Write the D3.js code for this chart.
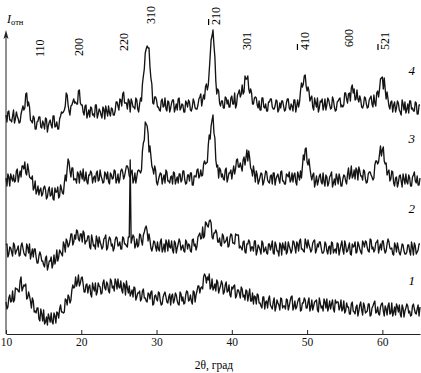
<!DOCTYPE html>
<html>
<head>
<meta charset="utf-8">
<script src="https://cdn.jsdelivr.net/npm/d3@7"></script>
<style>
  body { margin: 0; background: #fff; }
  #chart svg { display: block; }
</style>
</head>
<body>
<div id="chart"></div>
<script>
// 2theta grid of the scans, degrees (second set of readings sits half a step later)
var thetaStart = 10, thetaStep = 0.25;

// intensities (arb. units, above each curve's own offset)
var curve1 = [32,27,39,33,32,46,45,42,57,46,48,35,42,33,36,22,21,26,13,20,24,12,9,16,21,10,18,22,16,29,22,22,34,39,31,44,46,57,52,48,56,50,42,50,
  47,40,51,43,39,51,47,41,54,44,50,41,53,48,55,45,47,53,41,49,53,41,38,44,47,34,41,43,35,45,36,32,40,42,29,38,35,42,33,30,40,37,31,40,
  38,31,41,33,29,40,37,31,43,33,39,30,42,39,48,41,47,57,58,57,60,47,44,50,54,41,48,50,42,52,43,39,47,48,36,44,41,47,37,34,43,39,33,41,
  38,30,39,31,26,37,32,26,38,27,32,23,34,29,36,26,28,35,24,33,38,27,25,32,36,24,31,34,26,36,27,24,32,34,22,31,28,35,26,23,33,30,25,34,
  32,24,34,25,21,31,27,20,32,22,27,18,29,24,31,21,23,30,19,28,33,22,20,27,31,18,25,28,20,31,22,19,27,29,17,26,23,30,21,18,28,25,20,29,27];
var curve1Half = [25,36,32,43,34,45,43,53,43,49,50,36,38,26,33,23,26,15,25,13,10,17,20,12,12,21,11,21,25,22,21,35,29,37,34,49,47,48,59,51,57,42,49,41,
  49,37,46,51,42,48,40,51,46,52,43,55,46,43,52,55,46,44,51,39,46,48,41,37,46,37,41,33,43,36,33,41,35,43,30,39,33,41,29,37,42,32,37,29,
  40,34,39,30,42,33,30,39,42,34,33,43,32,43,48,46,45,60,51,54,45,55,46,43,52,45,53,40,49,42,49,37,45,49,38,44,36,45,39,44,33,45,33,30,
  37,40,31,28,37,25,33,35,29,25,36,27,31,24,35,28,25,34,28,37,24,33,27,35,23,31,36,26,32,23,34,28,33,24,36,26,23,32,35,27,25,34,22,31,
  32,27,23,33,23,27,20,30,23,20,29,23,32,19,28,22,30,18,26,31,21,27,19,30,23,28,19,31,21,18,27,30,22,20,29,17,26,28,23,19,30,21,25,18];
var curve2 = [29,17,27,22,31,20,25,18,28,26,19,30,21,15,25,25,17,11,22,13,9,16,4,13,17,10,10,24,17,22,18,29,35,27,33,40,32,35,43,33,40,43,30,33,
  38,25,34,29,38,27,32,25,35,39,26,37,28,23,34,36,29,25,37,30,28,37,114,35,37,29,27,40,33,39,46,43,40,26,27,32,23,25,32,22,30,34,23,27,
  33,21,31,26,35,24,29,22,32,30,23,34,28,24,37,41,36,36,52,48,53,51,35,41,41,32,29,40,31,34,27,36,39,31,40,39,26,26,32,22,30,34,23,27,
  33,19,29,24,33,22,27,20,30,28,21,32,23,18,29,31,24,20,32,25,24,32,21,30,33,25,23,35,26,29,22,31,34,24,27,32,21,23,30,20,28,32,21,25,
  31,19,29,24,33,22,27,20,30,28,21,32,25,20,31,33,26,22,34,27,24,32,21,30,33,25,23,35,26,26,19,28,31,21,24,29,20,22,29,19,27,31,20,24,30];
var curve2Half = [30,20,26,18,29,23,28,19,31,21,18,27,30,20,17,25,11,18,19,13,7,18,8,13,6,19,14,13,24,20,32,22,33,29,40,29,39,44,35,40,32,41,33,38,
  27,39,28,25,34,37,29,27,36,24,33,35,30,26,37,28,32,25,36,30,27,37,31,39,26,35,29,39,29,42,48,33,34,23,33,27,32,23,35,25,22,31,34,26,
  24,33,21,30,32,27,23,34,25,29,22,35,30,28,39,35,47,38,51,47,54,37,41,44,32,36,28,38,32,37,28,40,31,30,39,39,28,24,33,21,30,32,27,23,
  33,23,27,20,31,24,21,30,24,33,20,29,23,31,19,27,32,22,28,21,33,27,32,23,35,25,22,31,34,26,24,33,21,30,32,26,21,32,23,27,20,31,24,21,
  30,24,33,20,29,23,31,19,27,32,22,29,22,33,27,32,23,35,25,22,31,34,26,24,33,21,30,32,25,20,31,22,26,19,30,23,20,29,23,32,19,28,22,30];
var curve3 = [26,30,18,26,29,23,35,28,27,38,42,29,34,26,28,16,10,18,14,8,16,14,7,17,9,5,16,12,6,19,11,21,23,45,33,36,24,25,32,21,30,35,24,22,
  29,33,21,28,31,23,34,25,22,30,32,20,29,26,33,24,21,33,32,28,38,35,27,34,24,21,33,33,34,61,82,78,52,48,35,38,22,24,31,20,29,34,23,21,
  28,32,20,27,30,22,33,24,21,29,31,19,28,27,35,28,28,40,40,42,69,78,89,66,37,26,34,30,24,36,26,31,25,38,35,45,37,37,44,39,54,53,36,28,
  31,33,20,27,30,22,33,24,21,29,31,19,28,25,32,23,20,30,27,22,31,29,22,32,24,26,49,55,42,45,29,29,17,28,23,30,20,22,29,18,27,32,21,19,
  26,30,18,25,28,20,36,29,26,34,36,24,33,28,34,25,22,32,29,24,39,43,42,58,54,43,41,32,23,33,21,26,17,28,23,30,20,22,29,18,27,32,21,19,26];
var curve3Half = [18,27,30,23,22,33,22,33,38,35,31,40,27,25,14,23,13,9,16,10,18,5,14,8,16,4,12,17,8,15,10,29,35,42,27,36,25,21,30,33,25,23,32,20,
  29,31,26,22,33,24,28,21,32,25,22,31,25,34,21,30,25,35,25,33,38,28,32,21,31,27,34,31,53,64,80,71,58,38,30,34,19,28,30,25,21,32,23,27,
  20,31,24,21,30,24,33,20,29,23,31,19,28,34,26,34,29,43,41,59,65,84,71,44,39,36,27,25,34,22,31,34,32,30,44,37,41,33,47,46,43,46,34,38,
  22,29,23,31,19,27,32,22,28,20,31,25,30,21,33,23,20,29,32,24,22,31,19,28,33,37,44,56,39,36,24,31,22,19,28,22,31,18,27,21,29,17,25,30,
  20,26,18,29,23,30,25,38,28,25,34,37,28,24,33,21,30,32,27,26,43,40,50,48,57,40,29,34,25,32,18,27,21,29,17,25,30,20,26,18,29,23,28,19];
var curve4 = [29,32,24,22,34,25,28,21,30,38,36,51,42,24,21,26,15,23,27,16,20,26,12,22,19,28,17,22,15,28,31,34,51,39,29,39,45,42,40,54,39,32,38,26,
  34,37,29,27,39,30,33,26,35,38,28,31,36,29,33,42,34,44,50,41,41,45,32,42,37,46,35,40,43,68,91,98,96,66,41,47,44,37,33,45,38,35,43,32,
  41,44,36,34,46,36,39,32,41,44,34,37,42,35,39,47,38,49,57,54,73,104,114,87,50,53,38,43,36,46,44,37,48,40,36,49,54,50,50,68,65,55,55,40,
  46,46,36,34,46,37,40,33,42,45,35,38,43,34,36,43,33,41,45,34,38,44,32,44,42,61,60,69,53,53,46,37,46,37,32,43,45,38,34,46,39,36,44,33,
  42,45,37,37,51,45,50,43,59,55,45,45,48,37,39,46,36,44,48,37,41,51,47,65,67,66,45,45,35,43,39,32,43,34,29,40,42,35,31,43,36,33,41,30,39];
var curve4Half = [22,33,24,28,21,32,25,22,34,34,50,38,37,23,28,15,22,27,17,23,15,25,18,24,16,28,18,15,25,32,32,38,49,33,38,42,41,40,53,41,39,29,39,30,
  27,36,30,39,26,35,29,37,25,33,38,28,35,29,42,38,45,38,52,41,35,43,45,37,35,44,32,46,60,75,95,96,77,60,40,47,37,34,43,37,46,33,42,36,
  44,32,40,45,34,40,32,43,37,42,33,45,36,35,45,50,44,45,60,59,88,108,99,63,55,41,43,36,47,40,37,46,40,51,39,51,47,59,52,65,68,51,51,40,
  47,39,43,34,46,36,33,42,45,37,35,44,32,41,43,38,34,45,36,40,33,44,38,37,53,57,68,58,57,43,48,34,41,46,36,42,34,45,39,44,35,47,37,34,
  43,46,39,39,51,41,51,56,51,44,54,42,44,36,47,40,37,46,40,49,38,53,55,66,55,55,52,38,42,32,42,36,41,32,44,34,31,40,43,35,33,42,30,39];

var curves = [curve1, curve2, curve3, curve4];
var curvesHalf = [curve1Half, curve2Half, curve3Half, curve4Half];
var curveNames = ["1", "2", "3", "4"];
var curveOffsets = [0, 60, 130, 190];

// reflections: label, position in 2theta, digit carrying the bar (-1 = none)
var hklLabels = ["110", "200", "220", "310", "210", "301", "410", "600", "521"];
var hklTheta = [14.5, 19.7, 25.7, 29.3, 37.9, 42.0, 49.7, 55.6, 60.4];
var hklBar = [-1, -1, -1, -1, 0, -1, 0, -1, 0];

var xTicks = [10, 20, 30, 40, 50, 60];

var width = 421, height = 373;
var margin = {top: 28, right: 1, bottom: 39, left: 6};

var svg = d3.select("#chart").append("svg")
    .attr("width", width)
    .attr("height", height);

var xScale = d3.scaleLinear()
    .domain([10, 65])
    .range([margin.left, width - margin.right]);

var yScale = d3.scaleLinear()
    .domain([0, 306])
    .range([height - margin.bottom, margin.top]);

var font = "'Liberation Serif', 'DejaVu Serif', serif";

// curves
var line = d3.line()
    .x(function(d) { return xScale(d.t); })
    .y(function(d) { return yScale(d.v); });

curves.forEach(function(c, k) {
    var half = curvesHalf[k];
    var pts = [];
    c.forEach(function(v, i) {
        pts.push({t: thetaStart + i * thetaStep, v: v + curveOffsets[k]});
        if (i < half.length)
            pts.push({t: thetaStart + (i + 0.5) * thetaStep, v: half[i] + curveOffsets[k]});
    });
    svg.append("path")
        .datum(pts)
        .attr("d", line)
        .attr("fill", "none")
        .attr("stroke", "#141414")
        .attr("stroke-width", 1.35)
        .attr("stroke-linejoin", "round");
});

// curve numbers
var numY = [54, 126, 196, 264];
curveNames.forEach(function(n, k) {
    svg.append("text")
        .attr("x", xScale(63.9))
        .attr("y", yScale(numY[k]))
        .attr("text-anchor", "middle")
        .attr("dy", "0.35em")
        .style("font-family", font)
        .style("font-style", "italic")
        .style("font-size", "13px")
        .text(n);
});

// x axis, ticks inward
var xAxis = d3.axisBottom(xScale)
    .tickValues(xTicks)
    .tickSizeInner(-4)
    .tickSizeOuter(0)
    .tickPadding(4);

var gx = svg.append("g")
    .attr("transform", "translate(0," + yScale(0) + ")")
    .call(xAxis);
gx.select(".domain").attr("stroke", "#222");
gx.selectAll(".tick line").attr("stroke", "#222");
gx.selectAll(".tick text")
    .style("font-family", font)
    .style("font-size", "11.5px")
    .attr("fill", "#111");

svg.append("text")
    .attr("x", 214)
    .attr("y", 369)
    .attr("text-anchor", "middle")
    .style("font-family", font)
    .style("font-size", "11.5px")
    .text("2θ, град");

// y axis with arrow
svg.append("line")
    .attr("x1", xScale(10)).attr("x2", xScale(10))
    .attr("y1", yScale(0)).attr("y2", yScale(300))
    .attr("stroke", "#222")
    .attr("stroke-width", 1);

var ax = xScale(10), ay = yScale(306);
svg.append("path")
    .attr("d", "M" + ax + "," + (ay + 2) + " L" + (ax - 2.5) + "," + (ay + 11) +
               " L" + ax + "," + (ay + 9) + " L" + (ax + 2.5) + "," + (ay + 11) + " Z")
    .attr("fill", "#222");

var ylab = svg.append("text")
    .attr("x", 7)
    .attr("y", 23)
    .style("font-family", font);
ylab.append("tspan")
    .style("font-style", "italic")
    .style("font-size", "12px")
    .text("I");
ylab.append("tspan")
    .attr("dy", 2)
    .style("font-size", "8.5px")
    .text("отн");

// hkl labels, vertical
var hklBottom = [57, 56, 51, 24, 25, 50, 50, 47, 50];
hklLabels.forEach(function(lab, i) {
    var x = xScale(hklTheta[i]), y = hklBottom[i];
    var t = svg.append("text")
        .attr("transform", "translate(" + (x + 4) + "," + y + ") rotate(-90)")
        .style("font-family", font)
        .style("font-size", "12px");
    for (var j = 0; j < lab.length; j++) {
        var sp = t.append("tspan").text(lab[j]);
        if (hklBar[i] == j) sp.style("text-decoration", "overline");
    }
});
</script>
</body>
</html>
